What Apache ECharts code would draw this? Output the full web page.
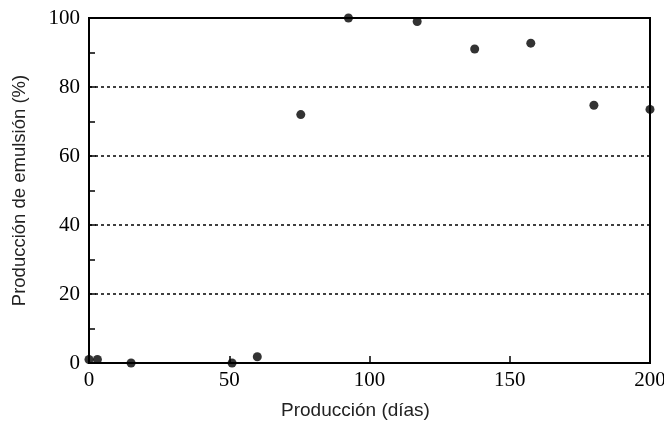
<!DOCTYPE html>
<html>
<head>
<meta charset="utf-8">
<script src="https://cdn.jsdelivr.net/npm/echarts@6/dist/echarts.min.js"></script>
<style>html,body{margin:0;padding:0;background:#fff}#c{width:664px;height:422px}</style>
</head>
<body>
<div id="c"></div>
<script>
const xDays = [0, 3, 15, 51, 60, 75.5, 92.5, 117, 137.5, 157.5, 180, 200];
const yEmulsion = [1, 1, 0, 0, 1.8, 72, 100, 99, 91, 92.7, 74.7, 73.5];
const xTitle = 'Producción (días)';
const yTitle = 'Producción de emulsión (%)';

const chart = echarts.init(document.getElementById('c'), null, {renderer: 'canvas'});
const serif = '"Liberation Serif", "DejaVu Serif", serif';
const sans = '"Liberation Sans", Arial, sans-serif';
chart.setOption({
  animation: false,
  backgroundColor: '#fff',
  grid: {left: 89, right: 14, top: 18, bottom: 59, outerBoundsMode: 'none', containLabel: false, show: true, borderColor: '#000', borderWidth: 2, backgroundColor: 'transparent'},
  xAxis: {
    type: 'value', min: 0, max: 200, interval: 50,
    name: xTitle, nameLocation: 'middle', nameGap: 38,
    nameTextStyle: {fontFamily: sans, fontSize: 19, color: '#222', padding: [0, 28, 0, 0]},
    axisLine: {show: true, lineStyle: {color: '#000', width: 2}},
    axisTick: {show: true, inside: true, length: 7, lineStyle: {color: '#000', width: 1.5}},
    axisLabel: {fontFamily: serif, fontSize: 21, color: '#000', margin: 7},
    splitLine: {show: false}
  },
  yAxis: {
    type: 'value', min: 0, max: 100, interval: 20,
    name: yTitle, nameLocation: 'middle', nameGap: 60,
    nameTextStyle: {fontFamily: sans, fontSize: 18.5, color: '#222'},
    axisLine: {show: true, lineStyle: {color: '#000', width: 2}},
    axisTick: {show: true, inside: true, length: 7, lineStyle: {color: '#000', width: 1.5}},
    minorTick: {show: true, splitNumber: 2, length: 6, lineStyle: {color: '#000', width: 1.5}},
    axisLabel: {fontFamily: serif, fontSize: 21, color: '#000', margin: 9},
    splitLine: {show: true, lineStyle: {color: '#000', width: 1.5, type: [3, 3]}}
  },
  series: [{
    type: 'scatter',
    data: xDays.map((x, i) => [x, yEmulsion[i]]),
    symbol: 'circle', symbolSize: 9,
    itemStyle: {color: '#000'},
    clip: false
  }]
});
</script>
</body>
</html>
